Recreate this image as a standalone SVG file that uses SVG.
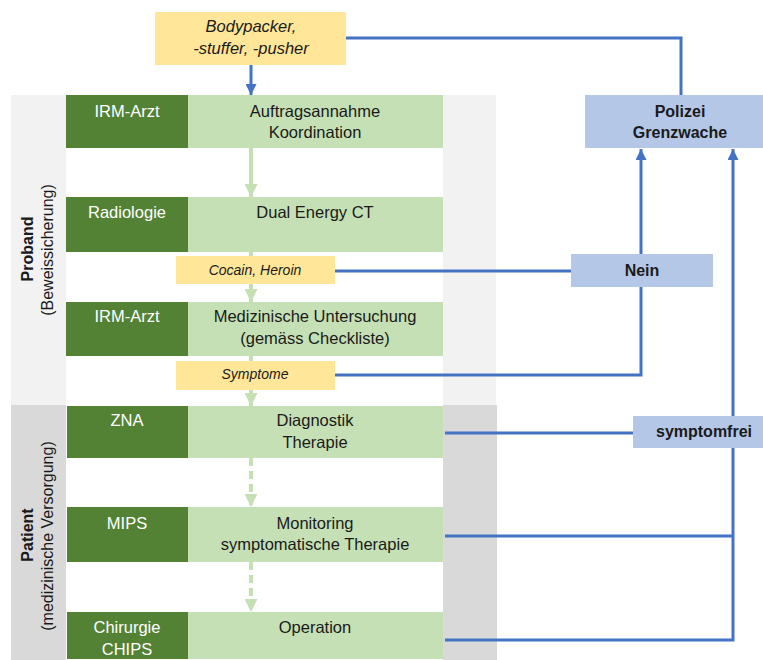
<svg xmlns="http://www.w3.org/2000/svg" width="763" height="660" viewBox="0 0 763 660">
<style>
.t{font-family:"Liberation Sans",Arial,sans-serif;font-size:16.5px;fill:#1a1a1a;text-anchor:middle}
.w{fill:#ffffff}
.b{font-weight:bold;font-size:16px}
.i{font-style:italic}
.lbl{font-family:"Liberation Sans",Arial,sans-serif;font-size:16px;fill:#1a1a1a;text-anchor:middle}
.dk{fill:#548235}
.lt{fill:#C5E0B4}
.ye{fill:#FFE699}
.bl{fill:#B4C7E7}
.gc{stroke:#C5E0B4;stroke-width:4;fill:none}
.bc{stroke:#4472C4;stroke-width:3;fill:none}
</style>
<defs>
<marker id="ag" viewBox="0 0 10 10" refX="10" refY="5" markerWidth="13" markerHeight="13" markerUnits="userSpaceOnUse" orient="auto"><path d="M0,0 L10,5 L0,10 z" fill="#C5E0B4"/></marker>
<marker id="ab" viewBox="0 0 10 10" refX="10" refY="5" markerWidth="11" markerHeight="11" markerUnits="userSpaceOnUse" orient="auto"><path d="M0,0 L10,5 L0,10 z" fill="#4472C4"/></marker>
</defs>
<rect width="763" height="660" fill="#ffffff"/>
<g id="lane-proband">
<rect x="11" y="95" width="485" height="310" fill="#F2F2F2"/>
<text class="lbl b" transform="translate(33,249) rotate(-90)">Proband</text>
<text class="lbl" transform="translate(53,250) rotate(-90)">(Beweissicherung)</text>
</g>
<g id="lane-patient">
<rect x="11" y="405" width="486" height="255" fill="#D9D9D9"/>
<text class="lbl b" transform="translate(33,535) rotate(-90)">Patient</text>
<text class="lbl" transform="translate(53,536) rotate(-90)">(medizinische Versorgung)</text>
</g>
<rect x="66" y="95" width="377" height="565" fill="#ffffff"/>
<g id="connectors">
<line class="gc" x1="251" y1="148" x2="251" y2="197" marker-end="url(#ag)"/>
<line class="gc" x1="251" y1="251" x2="251" y2="257"/>
<line class="gc" x1="251" y1="284" x2="251" y2="302" marker-end="url(#ag)"/>
<line class="gc" x1="251" y1="355" x2="251" y2="362"/>
<line class="gc" x1="251" y1="390" x2="251" y2="406" marker-end="url(#ag)"/>
<line class="gc" x1="251" y1="458" x2="251" y2="507" stroke-dasharray="8,5" marker-end="url(#ag)"/>
<line class="gc" x1="251" y1="562" x2="251" y2="612" stroke-dasharray="8,5" marker-end="url(#ag)"/>
<line class="bc" x1="251" y1="65" x2="251" y2="95" marker-end="url(#ab)"/>
<polyline class="bc" points="345,38 681,38 681,95"/>
<line class="bc" x1="335" y1="271" x2="571" y2="271"/>
<line class="bc" x1="641" y1="254" x2="641" y2="149" marker-end="url(#ab)"/>
<polyline class="bc" points="641,287 641,375 335,375"/>
<line class="bc" x1="445" y1="433" x2="633" y2="433"/>
<line class="bc" x1="733" y1="416" x2="733" y2="149" marker-end="url(#ab)"/>
<polyline class="bc" points="733,448 733,640 445,640"/>
<line class="bc" x1="445" y1="536" x2="733" y2="536"/>
</g>
<g id="bodypacker">
<rect class="ye" x="155" y="12" width="191" height="53"/>
<text class="t i" x="251" y="32">Bodypacker,</text>
<text class="t i" x="251" y="54">-stuffer, -pusher</text>
</g>
<g id="row1">
<rect class="dk" x="66" y="95" width="122" height="53"/>
<rect class="lt" x="188" y="95" width="255" height="53"/>
<text class="t w" x="127" y="117">IRM-Arzt</text>
<text class="t" x="315" y="117">Auftragsannahme</text>
<text class="t" x="315" y="138">Koordination</text>
</g>
<g id="row2">
<rect class="dk" x="66" y="197" width="122" height="55"/>
<rect class="lt" x="188" y="197" width="255" height="55"/>
<text class="t w" x="127" y="218">Radiologie</text>
<text class="t" x="315" y="218">Dual Energy CT</text>
</g>
<g id="cocain">
<rect class="ye" x="176" y="256" width="159" height="28"/>
<text class="t i" x="255" y="275" style="font-size:14px">Cocain, Heroin</text>
</g>
<g id="row3">
<rect class="dk" x="66" y="302" width="122" height="54"/>
<rect class="lt" x="188" y="302" width="255" height="54"/>
<text class="t w" x="127" y="322">IRM-Arzt</text>
<text class="t" x="315" y="322">Medizinische Untersuchung</text>
<text class="t" x="315" y="344">(gemäss Checkliste)</text>
</g>
<g id="symptome">
<rect class="ye" x="176" y="361" width="159" height="29"/>
<text class="t i" x="255" y="379" style="font-size:14px">Symptome</text>
</g>
<g id="row4">
<rect class="dk" x="67" y="406" width="121" height="52"/>
<rect class="lt" x="188" y="406" width="255" height="52"/>
<text class="t w" x="127" y="426">ZNA</text>
<text class="t" x="315" y="426">Diagnostik</text>
<text class="t" x="315" y="448">Therapie</text>
</g>
<g id="row5">
<rect class="dk" x="67" y="507" width="121" height="55"/>
<rect class="lt" x="188" y="507" width="255" height="55"/>
<text class="t w" x="127" y="529">MIPS</text>
<text class="t" x="315" y="529">Monitoring</text>
<text class="t" x="315" y="550">symptomatische Therapie</text>
</g>
<g id="row6">
<rect class="dk" x="67" y="612" width="121" height="47"/>
<rect class="lt" x="188" y="612" width="255" height="47"/>
<text class="t w" x="127" y="633">Chirurgie</text>
<text class="t w" x="127" y="655">CHIPS</text>
<text class="t" x="315" y="633">Operation</text>
</g>
<g id="polizei">
<rect class="bl" x="585" y="95" width="178" height="53"/>
<text class="t b" x="680" y="117">Polizei</text>
<text class="t b" x="680" y="138">Grenzwache</text>
</g>
<g id="nein">
<rect class="bl" x="571" y="254" width="142" height="33"/>
<text class="t b" x="642" y="276">Nein</text>
</g>
<g id="symptomfrei">
<rect class="bl" x="633" y="416" width="130" height="32"/>
<text class="t b" x="704" y="437">symptomfrei</text>
</g>
</svg>
